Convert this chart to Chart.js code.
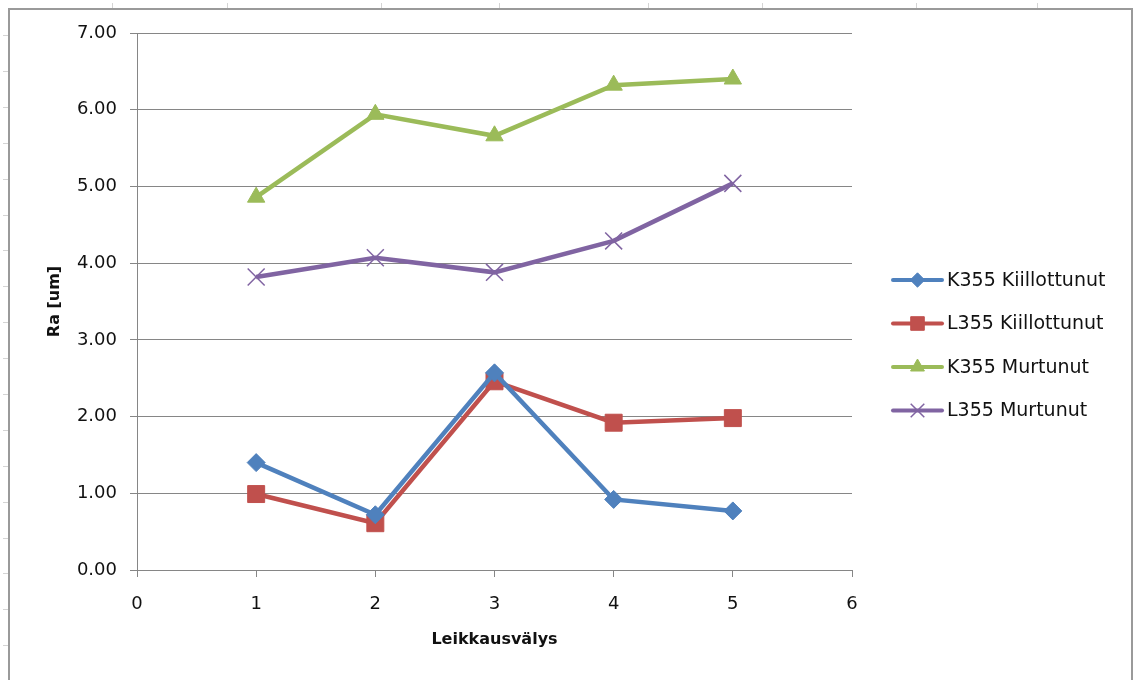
<!DOCTYPE html>
<html>
<head>
<meta charset="utf-8">
<title>Ra - Leikkausvälys</title>
<script src="https://cdn.jsdelivr.net/npm/chart.js@4/dist/chart.umd.min.js"></script>
<style>
  html, body { margin: 0; padding: 0; background: #fff; }
  #wrap { width: 1134px; height: 680px; position: relative; }
</style>
</head>
<body>
<div id="wrap"><canvas id="ra-chart"></canvas></div>
<script>
// leikkausvälys (x) ja mitatut Ra-arvot [um]
const clearances = [1, 2, 3, 4, 5];
const seriesNames = ['K355 Kiillottunut', 'L355 Kiillottunut', 'K355 Murtunut', 'L355 Murtunut'];
const k355Polished = [1.40, 0.72, 2.57, 0.92, 0.77];
const l355Polished = [0.99, 0.61, 2.46, 1.92, 1.98];
const k355Fractured = [4.86, 5.94, 5.66, 6.32, 6.40];
const l355Fractured = [3.82, 4.07, 3.88, 4.29, 5.04];
const xTicks = [0, 1, 2, 3, 4, 5, 6];
const yTicks = [0, 1, 2, 3, 4, 5, 6, 7];

const FONT = "'DejaVu Sans', sans-serif";
const GRID = '#868686';

function toPoints(values) {
  return clearances.map((x, i) => ({ x: x, y: values[i] }));
}

function series(label, values, color, style, radius, borderWidth) {
  return {
    label: label,
    data: toPoints(values),
    borderColor: color,
    backgroundColor: color,
    borderWidth: 4.5,
    pointStyle: style,
    pointRadius: radius,
    pointHoverRadius: radius,
    pointBackgroundColor: color,
    pointBorderColor: color,
    pointBorderWidth: borderWidth,
    tension: 0
  };
}

// valkoinen tausta, kehys ja taulukon ruudukon reunaviivat
const sheetFrame = {
  id: 'sheetFrame',
  beforeDraw(chart) {
    const ctx = chart.ctx;
    ctx.save();
    ctx.fillStyle = '#fff';
    ctx.fillRect(0, 0, chart.width, chart.height);
    ctx.strokeStyle = '#d4d4d4';
    ctx.lineWidth = 1;
    [112, 227, 381, 499, 648, 762, 916, 1037].forEach(x => {
      ctx.beginPath();
      ctx.moveTo(x + 0.5, 3);
      ctx.lineTo(x + 0.5, 8);
      ctx.stroke();
    });
    for (let y = 35; y < chart.height; y += 35.9) {
      ctx.beginPath();
      ctx.moveTo(3, Math.round(y) + 0.5);
      ctx.lineTo(8, Math.round(y) + 0.5);
      ctx.stroke();
    }
    ctx.strokeStyle = '#9a9a9a';
    ctx.lineWidth = 2;
    ctx.beginPath();
    ctx.moveTo(9, chart.height + 2);
    ctx.lineTo(9, 9);
    ctx.lineTo(1132, 9);
    ctx.lineTo(1132, chart.height + 2);
    ctx.stroke();
    ctx.restore();
  }
};

// selite oikealle: viiva + merkki + nimi
const sideLegend = {
  id: 'sideLegend',
  afterDraw(chart) {
    const ctx = chart.ctx;
    const x0 = 893, x1 = 942, top = 280, gap = 43.5;
    ctx.save();
    chart.data.datasets.forEach((ds, i) => {
      const y = top + i * gap;
      ctx.strokeStyle = ds.borderColor;
      ctx.lineWidth = 4;
      ctx.lineCap = 'round';
      ctx.beginPath();
      ctx.moveTo(x0, y);
      ctx.lineTo(x1, y);
      ctx.stroke();
      ctx.fillStyle = ds.pointBackgroundColor;
      ctx.strokeStyle = ds.pointBorderColor;
      ctx.lineWidth = ds.pointBorderWidth;
      ctx.lineCap = 'butt';
      Chart.helpers.drawPoint(ctx, {
        pointStyle: ds.pointStyle,
        radius: ds.pointRadius * 0.8,
        rotation: 0,
        borderWidth: ds.pointBorderWidth
      }, (x0 + x1) / 2, y);
      ctx.fillStyle = '#111';
      ctx.font = '19px ' + FONT;
      ctx.textAlign = 'left';
      ctx.textBaseline = 'middle';
      ctx.fillText(ds.label, 947, y + 1);
    });
    ctx.restore();
  }
};

const ctx = document.getElementById('ra-chart');
new Chart(ctx, {
  type: 'line',
  data: {
    datasets: [
      series(seriesNames[0], k355Polished, '#4F81BD', 'rectRot', 9, 1),
      series(seriesNames[1], l355Polished, '#C0504D', 'rect', 12, 1),
      series(seriesNames[2], k355Fractured, '#9BBB59', 'triangle', 10, 1),
      series(seriesNames[3], l355Fractured, '#8064A2', 'crossRot', 12, 1.5)
    ]
  },
  options: {
    responsive: true,
    maintainAspectRatio: false,
    animation: false,
    layout: {
      padding: { left: 0, top: 33, right: 282, bottom: 0 }
    },
    plugins: {
      legend: { display: false },
      tooltip: { enabled: false },
      title: { display: false }
    },
    scales: {
      x: {
        type: 'linear',
        min: 0,
        max: 6,
        afterBuildTicks: scale => { scale.ticks = xTicks.map(v => ({ value: v })); },
        afterFit: scale => { scale.height = 110; },
        grid: {
          drawOnChartArea: false,
          drawTicks: true,
          tickLength: 7,
          color: GRID
        },
        border: { color: GRID, width: 1 },
        ticks: {
          padding: 17,
          color: '#111',
          font: { family: FONT, size: 18 }
        },
        title: {
          display: true,
          text: 'Leikkausvälys',
          color: '#111',
          font: { family: FONT, size: 16, weight: 'bold' },
          padding: { top: 0, bottom: 31 }
        }
      },
      y: {
        min: 0,
        max: 7,
        afterBuildTicks: scale => { scale.ticks = yTicks.map(v => ({ value: v })); },
        afterFit: scale => { scale.width = 137; },
        grid: {
          drawOnChartArea: true,
          drawTicks: true,
          tickLength: 7,
          color: GRID
        },
        border: { color: GRID, width: 1 },
        ticks: {
          padding: 13,
          color: '#111',
          font: { family: FONT, size: 18 },
          callback: value => value.toFixed(2)
        },
        title: {
          display: true,
          text: 'Ra [um]',
          color: '#111',
          font: { family: FONT, size: 16, weight: 'bold' },
          padding: { top: 45, bottom: 0 }
        }
      }
    }
  },
  plugins: [sheetFrame, sideLegend]
});
</script>
</body>
</html>
